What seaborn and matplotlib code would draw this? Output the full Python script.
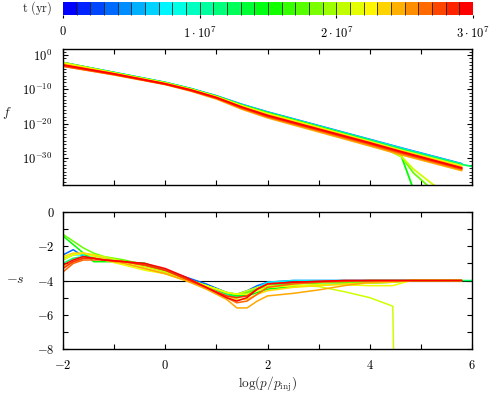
import numpy as np
import pandas as pd
import matplotlib
matplotlib.use("Agg")
import matplotlib.pyplot as plt
import matplotlib.ticker as mticker
from matplotlib.colors import LinearSegmentedColormap, Normalize
from matplotlib.cm import ScalarMappable
import seaborn as sns

nan = np.nan

# snapshot times (yr)
times = [3e6, 7e6, 1.2e7, 1.5e7, 1.8e7, 2.1e7, 2.2e7, 2.35e7, 2.5e7, 2.7e7, 2.85e7, 3.0e7]

# top panel: log10 f vs log(p/p_inj)
xf = [-2.0, -1.0, 0.0, 0.5, 1.0, 1.5, 2.0, 3.0, 4.0, 4.4, 4.62, 4.85, 5.2, 5.3, 5.8, 6.0]
logf_curves = [
    [-2.2, -5.1, -8.0, -9.8, -11.9, -14.4, -16.6, -20.6, -24.6, nan, -27.1, nan, nan, nan, -31.7, nan],
    [-2.3, -5.1, -8.0, -9.8, -12.0, -14.5, -16.7, -20.7, -24.7, nan, -27.2, nan, nan, nan, -31.8, nan],
    [-2.4, -5.2, -8.1, -9.9, -12.0, -14.6, -16.8, -20.8, -24.8, nan, -27.4, nan, nan, nan, -31.9, -32.5],
    [-2.3, -5.2, -8.1, -9.9, -12.1, -14.7, -16.9, -21.0, -25.3, -27.9, -29.6, -39.0, nan, nan, nan, nan],
    [-2.2, -5.2, -8.1, -10.0, -12.1, -14.8, -17.0, -21.1, -25.4, -28.0, -29.6, -34.3, -39.0, nan, nan, nan],
    [-2.5, -5.3, -8.2, -10.0, -12.2, -14.8, -17.1, -21.1, -25.4, -28.0, -29.6, -33.2, nan, -38.5, nan, nan],
    [-2.3, -5.3, -8.2, -10.0, -12.2, -14.9, -17.2, -21.2, -25.2, nan, -27.8, nan, nan, nan, -32.3, nan],
    [-2.6, -5.4, -8.3, -10.1, -12.3, -15.1, -17.4, -21.4, -25.4, nan, -28.0, nan, nan, nan, -32.6, nan],
    [-3.2, -5.8, -8.6, -10.5, -12.8, -15.8, -18.3, -22.4, -26.5, nan, -29.1, nan, nan, nan, -33.7, nan],
    [-3.3, -5.7, -8.5, -10.4, -12.6, -15.5, -18.0, -22.0, -26.1, nan, -28.7, nan, nan, nan, -33.3, nan],
    [-3.0, -5.6, -8.5, -10.3, -12.5, -15.3, -17.8, -21.8, -25.8, nan, -28.4, nan, nan, nan, -33.1, nan],
    [-2.9, -5.5, -8.4, -10.2, -12.4, -15.2, -17.6, -21.6, -25.6, nan, -28.2, nan, nan, nan, -32.9, nan],
]

# bottom panel: -s vs log(p/p_inj)
xs = [-2.0, -1.8, -1.6, -1.4, -1.2, -0.8, -0.4, 0.0, 0.4, 0.8, 1.2, 1.4,
      1.6, 1.8, 2.0, 2.5, 3.0, 3.5, 4.0, 4.45, 4.47, 4.8, 5.8, 6.0]
ms_curves = [
    [-2.5, -2.2, -2.6, -2.7, -2.7, -2.9, -3.1, -3.4, -3.8, -4.2, -4.7, -4.8, -4.6, -4.3, -4.1, -4.0, -4.0, -4.0, -4.0, -4.0, nan, -4.0, -4.0, nan],
    [-2.8, -2.5, -2.5, -2.6, -2.7, -2.9, -3.1, -3.5, -3.9, -4.3, -4.8, -4.9, -4.7, -4.4, -4.1, -4.0, -4.0, -4.0, -4.0, -4.0, nan, -4.0, -4.0, nan],
    [-3.0, -2.7, -2.6, -2.7, -2.8, -2.9, -3.0, -3.4, -3.9, -4.3, -4.8, -5.0, -4.8, -4.5, -4.3, -4.15, -4.1, -4.05, -4.0, -4.0, nan, -4.0, -4.0, -4.0],
    [-1.4, -1.9, -2.4, -2.9, -2.9, -2.9, -3.0, -3.4, -3.9, -4.3, -4.7, -4.9, -4.9, -4.7, -4.5, -4.35, -4.25, -4.2, -4.15, -4.1, nan, -4.0, -4.0, nan],
    [-1.3, -1.7, -2.1, -2.4, -2.6, -2.8, -3.1, -3.5, -3.9, -4.3, -4.7, -4.8, -4.7, -4.5, -4.35, -4.2, -4.15, -4.1, -4.1, -4.05, nan, -4.0, -4.0, nan],
    [-2.7, -2.5, -2.4, -2.5, -2.6, -2.9, -3.2, -3.5, -3.9, -4.3, -4.7, -4.8, -4.6, -4.4, -4.3, -4.3, -4.35, -4.65, -5.0, -5.5, -9.0, nan, nan, nan],
    [-2.8, -2.5, -2.4, -2.6, -2.8, -3.1, -3.4, -3.6, -4.0, -4.3, -4.7, -4.8, -4.8, -4.6, -4.4, -4.3, -4.25, -4.25, -4.3, -4.3, nan, -4.0, -4.0, nan],
    [-2.6, -2.4, -2.4, -2.5, -2.7, -3.0, -3.3, -3.6, -4.0, -4.4, -4.9, -5.1, -5.1, -4.8, -4.6, -4.4, -4.3, -4.2, -4.15, -4.1, nan, -4.0, -4.0, nan],
    [-3.2, -2.9, -2.7, -2.7, -2.8, -3.0, -3.3, -3.6, -4.0, -4.5, -5.1, -5.6, -5.6, -5.2, -4.9, -4.75, -4.55, -4.3, -4.1, -4.05, nan, -4.0, -4.0, nan],
    [-3.5, -3.0, -2.8, -2.8, -2.8, -2.9, -3.1, -3.4, -3.9, -4.4, -5.0, -5.3, -5.2, -4.8, -4.4, -4.2, -4.1, -4.05, -4.0, -4.0, nan, -4.0, -4.0, nan],
    [-3.3, -2.9, -2.7, -2.7, -2.8, -2.9, -3.1, -3.4, -3.9, -4.4, -4.9, -5.0, -4.9, -4.5, -4.2, -4.1, -4.05, -4.0, -4.0, -4.0, nan, -4.0, -4.0, nan],
    [-3.1, -2.8, -2.6, -2.7, -2.8, -2.9, -3.0, -3.3, -3.8, -4.4, -5.0, -5.2, -5.0, -4.5, -4.2, -4.1, -4.05, -4.0, -4.0, -4.0, nan, -4.0, -4.0, nan],
]

# long-form tables
rows = []
for t, c in zip(times, logf_curves):
    for x, v in zip(xf, c):
        rows.append((t, x, v))
df_f = pd.DataFrame(rows, columns=["t", "x", "logf"]).dropna()
df_f["f"] = 10.0 ** df_f["logf"]

rows = []
for t, c in zip(times, ms_curves):
    for x, v in zip(xs, c):
        rows.append((t, x, v))
df_s = pd.DataFrame(rows, columns=["t", "x", "ms"]).dropna()

sns.set_style("ticks")
plt.rcParams.update({
    "mathtext.fontset": "cm",
    "font.size": 9,
    "axes.linewidth": 1.0,
    "axes.edgecolor": "black",
    "xtick.color": "black",
    "ytick.color": "black",
    "xtick.direction": "in",
    "ytick.direction": "in",
    "xtick.top": True,
    "ytick.right": True,
})

cmap = LinearSegmentedColormap.from_list(
    "bcgyr", [(0, "#0000ff"), (0.25, "#00ffff"), (0.5, "#00ff00"),
              (0.75, "#ffff00"), (1, "#ff0000")])
tnorm = (0, 3e7)

fig = plt.figure(figsize=(4.9, 3.97), dpi=100)
cax = fig.add_axes([0.1286, 0.9622, 0.8367, 0.0335])
ax1 = fig.add_axes([0.1286, 0.534, 0.8347, 0.3426])
ax2 = fig.add_axes([0.1286, 0.1209, 0.8347, 0.345])

# -------- top: f --------
sns.lineplot(data=df_f, x="x", y="f", hue="t", palette=cmap, hue_norm=tnorm,
             units="t", estimator=None, sort=False, lw=1.3, legend=False, ax=ax1)
ax1.set_yscale("log")
ax1.set_xlim(-2, 6)
ax1.set_ylim(10 ** -37.9, 10 ** 1.75)
ax1.yaxis.set_major_locator(mticker.FixedLocator([1e0, 1e-10, 1e-20, 1e-30]))
ax1.yaxis.set_major_formatter(mticker.FuncFormatter(
    lambda v, p: r"$10^{%d}$" % round(np.log10(v))))
ax1.yaxis.set_minor_locator(mticker.FixedLocator([10.0 ** k for k in range(-37, 2)]))
ax1.yaxis.set_minor_formatter(mticker.NullFormatter())
ax1.xaxis.set_major_locator(mticker.MultipleLocator(1))
ax1.tick_params(axis="x", labelbottom=False, length=3.5, width=0.8)
ax1.tick_params(axis="y", which="major", length=3.5, width=0.8, pad=8, labelsize=9)
ax1.tick_params(axis="y", which="minor", length=2, width=0.6)
ax1.set_xlabel("")
ax1.set_ylabel(r"$f$", rotation=0, fontsize=10)
ax1.yaxis.set_label_coords(-0.137, 0.47)

# -------- bottom: -s --------
ax2.axhline(-4, color="black", lw=0.8, zorder=1)
sns.lineplot(data=df_s, x="x", y="ms", hue="t", palette=cmap, hue_norm=tnorm,
             units="t", estimator=None, sort=False, lw=1.1, legend=False, ax=ax2)
ax2.set_xlim(-2, 6)
ax2.set_ylim(-8, 0)
ax2.xaxis.set_major_locator(mticker.MultipleLocator(2))
ax2.xaxis.set_minor_locator(mticker.MultipleLocator(1))
ax2.yaxis.set_major_locator(mticker.MultipleLocator(2))
ax2.yaxis.set_minor_locator(mticker.MultipleLocator(1))
fmt = mticker.FuncFormatter(lambda v, p: r"$%d$" % round(v))
ax2.xaxis.set_major_formatter(fmt)
ax2.yaxis.set_major_formatter(fmt)
ax2.tick_params(which="major", length=3.5, width=0.8, labelsize=9)
ax2.tick_params(which="minor", length=3.5, width=0.8)
ax2.tick_params(axis="x", pad=7)
ax2.tick_params(axis="y", pad=6)
ax2.set_xlabel(r"$\log(p/p_{\mathrm{inj}})$", fontsize=9.5, labelpad=2)
ax2.set_ylabel(r"$-s$", rotation=0, fontsize=10)
ax2.yaxis.set_label_coords(-0.117, 0.46)

# -------- colorbar --------
sm = ScalarMappable(norm=Normalize(*tnorm), cmap=cmap.resampled(30))
cb = fig.colorbar(sm, cax=cax, orientation="horizontal", drawedges=True)
cb.outline.set_visible(False)
cb.dividers.set_color("#222222")
cb.dividers.set_linewidth(0.6)
cb.set_ticks([0, 1e7, 2e7, 3e7])
cb.set_ticklabels([r"$0$", r"$1\cdot10^{7}$", r"$2\cdot10^{7}$", r"$3\cdot10^{7}$"])
cax.tick_params(axis="x", direction="out", length=2.5, width=0.8, pad=5,
                labelsize=9, top=False, bottom=True)
fig.text(52 / 490, 1 - 8 / 397, r"$\mathrm{t\ (yr)}$", ha="right", va="center",
         fontsize=9)

fig.savefig("out.png", dpi=100)
